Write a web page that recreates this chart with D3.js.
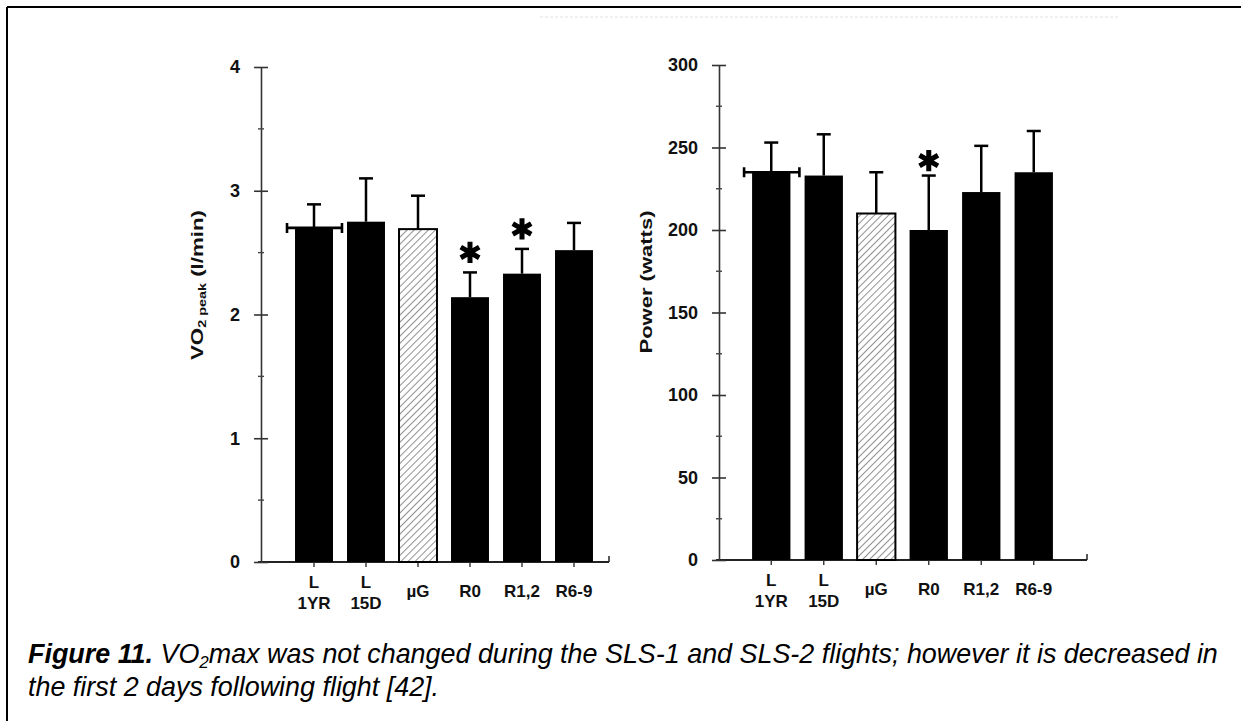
<!DOCTYPE html>
<html>
<head>
<meta charset="utf-8">
<script src="https://cdn.jsdelivr.net/npm/d3@7"></script>
<style>
  body { margin: 0; background: #fff; }
  svg text { font-family: "Liberation Sans", Arial, sans-serif; }
</style>
</head>
<body>
<svg id="fig" width="1241" height="721"></svg>
<script>
// categories (two-line labels split on "|")
var categories = ["L|1YR", "L|15D", "\u00b5G", "R0", "R1,2", "R6-9"];
var hatched = [false, false, true, false, false, false];

// left panel: VO2 peak (l/min)
var vo2Values = [2.70, 2.75, 2.69, 2.14, 2.33, 2.52];
var vo2Errors = [0.19, 0.35, 0.27, 0.20, 0.20, 0.22];
var vo2Sig = [false, false, false, true, true, false];
var vo2Ticks = [0, 1, 2, 3, 4];

// right panel: Power (watts)
var powerValues = [235, 233, 210, 200, 223, 235];
var powerErrors = [18, 25, 25, 33, 28, 25];
var powerSig = [false, false, false, true, false, false];
var powerTicks = [0, 50, 100, 150, 200, 250, 300];

(function(){
    "use strict";
    var svg = d3.select("#fig");

    // page frame (only top and left edges show)
    svg.append("line").attr("x1", 7).attr("y1", 7).attr("x2", 1241).attr("y2", 7)
        .attr("stroke", "#000").attr("stroke-width", 2);
    svg.append("line").attr("x1", 7).attr("y1", 7).attr("x2", 7).attr("y2", 721)
        .attr("stroke", "#000").attr("stroke-width", 2);
    // faint scan artefact
    svg.append("line").attr("x1", 540).attr("y1", 17).attr("x2", 1120).attr("y2", 17)
        .attr("stroke", "#ececec").attr("stroke-width", 1.5).attr("stroke-dasharray", "3,2");

    // hatch pattern for the microgravity bar
    var defs = svg.append("defs");
    defs.append("pattern")
        .attr("id", "hatch")
        .attr("patternUnits", "userSpaceOnUse")
        .attr("width", 5).attr("height", 5)
        .attr("patternTransform", "rotate(45)")
        .append("line")
        .attr("x1", 0).attr("y1", 0).attr("x2", 0).attr("y2", 5)
        .attr("stroke", "#555").attr("stroke-width", 1.3);

    function panel(opt) {
        var g = svg.append("g");

        var y = d3.scaleLinear().domain([0, opt.max]).range([opt.y0, opt.y1]);
        var x = d3.scaleBand().domain(categories)
            .range([opt.xStart, opt.xEnd])
            .paddingInner(0.27).paddingOuter(0.135);
        var bw = x.bandwidth();

        // x axis line
        g.append("line")
            .attr("x1", opt.axisX - 3).attr("x2", opt.axisEnd)
            .attr("y1", y(0)).attr("y2", y(0))
            .attr("stroke", "#222").attr("stroke-width", 1.8);
        g.append("line")
            .attr("x1", opt.axisEnd).attr("x2", opt.axisEnd)
            .attr("y1", y(0)).attr("y2", y(0) - 6)
            .attr("stroke", "#222").attr("stroke-width", 1.5);

        // y axis with major and minor ticks
        var yAxis = d3.axisLeft(y).tickValues(opt.ticks).tickSize(0).tickPadding(21)
            .tickFormat(d3.format("d"));
        var ya = g.append("g").attr("transform", "translate(" + opt.axisX + ",0)").call(yAxis);
        ya.select(".domain").attr("stroke", "#333").attr("stroke-width", 1.6);
        ya.selectAll(".tick text")
            .attr("font-size", 18).attr("font-weight", "bold").attr("fill", "#111")
            .attr("font-family", "Liberation Sans, Arial, sans-serif");
        ya.selectAll(".tick").append("line")
            .attr("x1", -7).attr("x2", 7).attr("stroke", "#333").attr("stroke-width", 1.6);
        var step = opt.ticks[1] - opt.ticks[0];
        var minor = opt.ticks.slice(0, -1).map(function(d){ return d + step / 2; });
        g.selectAll(".minor").data(minor).enter().append("line")
            .attr("x1", opt.axisX - 3).attr("x2", opt.axisX + 3)
            .attr("y1", function(d){ return y(d); }).attr("y2", function(d){ return y(d); })
            .attr("stroke", "#444").attr("stroke-width", 1.4);

        // small ticks under the x axis
        g.selectAll(".xt").data(categories).enter().append("line")
            .attr("x1", function(d){ return x(d) + bw / 2; })
            .attr("x2", function(d){ return x(d) + bw / 2; })
            .attr("y1", y(0)).attr("y2", y(0) + 5)
            .attr("stroke", "#333").attr("stroke-width", 1.4);

        // error bars (upper only)
        var errG = g.append("g");
        opt.values.forEach(function(v, i) {
            var cx = x(categories[i]) + bw / 2;
            var top = y(v + opt.errors[i]);
            errG.append("line").attr("x1", cx).attr("x2", cx)
                .attr("y1", y(v)).attr("y2", top)
                .attr("stroke", "#000").attr("stroke-width", 2.5);
            errG.append("line").attr("x1", cx - 7).attr("x2", cx + 7)
                .attr("y1", top).attr("y2", top)
                .attr("stroke", "#000").attr("stroke-width", 2.5);
        });

        // bars
        g.selectAll(".bar").data(opt.values).enter().append("rect")
            .attr("x", function(d, i){ return x(categories[i]); })
            .attr("y", function(d){ return y(d); })
            .attr("width", bw)
            .attr("height", function(d){ return y(0) - y(d); })
            .attr("fill", function(d, i){ return hatched[i] ? "url(#hatch)" : "#000"; })
            .attr("stroke", "#000")
            .attr("stroke-width", function(d, i){ return hatched[i] ? 2 : 0; });

        // bracket across the first bar
        var b0 = x(categories[0]);
        var by = y(opt.values[0]);
        var bl = b0 - 8, br = b0 + bw + 9;
        g.append("path")
            .attr("d", "M" + bl + "," + (by - 5) + "V" + (by + 5) + "M" + bl + "," + by +
                "H" + br + "M" + br + "," + (by - 5) + "V" + (by + 5))
            .attr("fill", "none").attr("stroke", "#000").attr("stroke-width", 2.6);

        // significance stars
        var star = d3.symbol().type(d3.symbolAsterisk).size(320);
        opt.values.forEach(function(v, i) {
            if (!opt.sig[i]) return;
            var cx = x(categories[i]) + bw / 2;
            g.append("path").attr("d", star())
                .attr("transform", "translate(" + cx + "," + (y(v + opt.errors[i]) - opt.starGap) + ")")
                .attr("fill", "none").attr("stroke", "#000").attr("stroke-width", 5);
        });

        // category labels
        categories.forEach(function(c) {
            var parts = c.split("|");
            var cx = x(c) + bw / 2;
            var t = g.append("text").attr("x", cx).attr("text-anchor", "middle")
                .attr("font-size", 17).attr("font-weight", "bold").attr("fill", "#111");
            if (parts.length === 2) {
                t.append("tspan").attr("x", cx).attr("y", y(0) + 26).text(parts[0]);
                t.append("tspan").attr("x", cx).attr("y", y(0) + 47).text(parts[1]);
            } else {
                t.attr("y", y(0) + 35).text(parts[0]);
            }
        });

        // y title
        var title = g.append("text")
            .attr("transform", "translate(" + opt.titleX + "," + opt.titleY + ") rotate(-90)")
            .attr("text-anchor", "middle").attr("dominant-baseline", "middle")
            .attr("font-size", 17).attr("font-weight", "bold").attr("fill", "#111");
        opt.title(title);
    }

    panel({
        values: vo2Values, errors: vo2Errors, sig: vo2Sig, ticks: vo2Ticks, max: 4,
        y0: 562, y1: 67, axisX: 261, axisEnd: 609, xStart: 288, xEnd: 600,
        titleX: 199, titleY: 285, starGap: 20,
        title: function(t) {
            t.attr("textLength", 150).attr("lengthAdjust", "spacingAndGlyphs");
            t.append("tspan").text("VO");
            t.append("tspan").attr("font-size", 11).attr("dy", 4).text("2 peak");
            t.append("tspan").attr("dy", -4).text(" (l/min)");
        }
    });

    panel({
        values: powerValues, errors: powerErrors, sig: powerSig, ticks: powerTicks, max: 300,
        y0: 560, y1: 65, axisX: 719, axisEnd: 1087, xStart: 745, xEnd: 1060,
        titleX: 648, titleY: 282, starGap: 15,
        title: function(t) {
            t.attr("textLength", 143).attr("lengthAdjust", "spacingAndGlyphs").text("Power (watts)");
        }
    });

    // caption
    var cap = svg.append("text").attr("x", 28).attr("y", 663)
        .attr("font-size", 26.9).attr("font-style", "italic").attr("fill", "#000");
    cap.append("tspan").attr("font-weight", "bold").text("Figure 11.");
    cap.append("tspan").text(" VO");
    cap.append("tspan").attr("font-size", 17).attr("dy", 5).text("2");
    cap.append("tspan").attr("dy", -5)
        .text("max was not changed during the SLS-1 and SLS-2 flights; however it is decreased in");
    svg.append("text").attr("x", 28).attr("y", 696)
        .attr("font-size", 26.9).attr("font-style", "italic").attr("fill", "#000")
        .text("the first 2 days following flight [42].");
})();
</script>
</body>
</html>
